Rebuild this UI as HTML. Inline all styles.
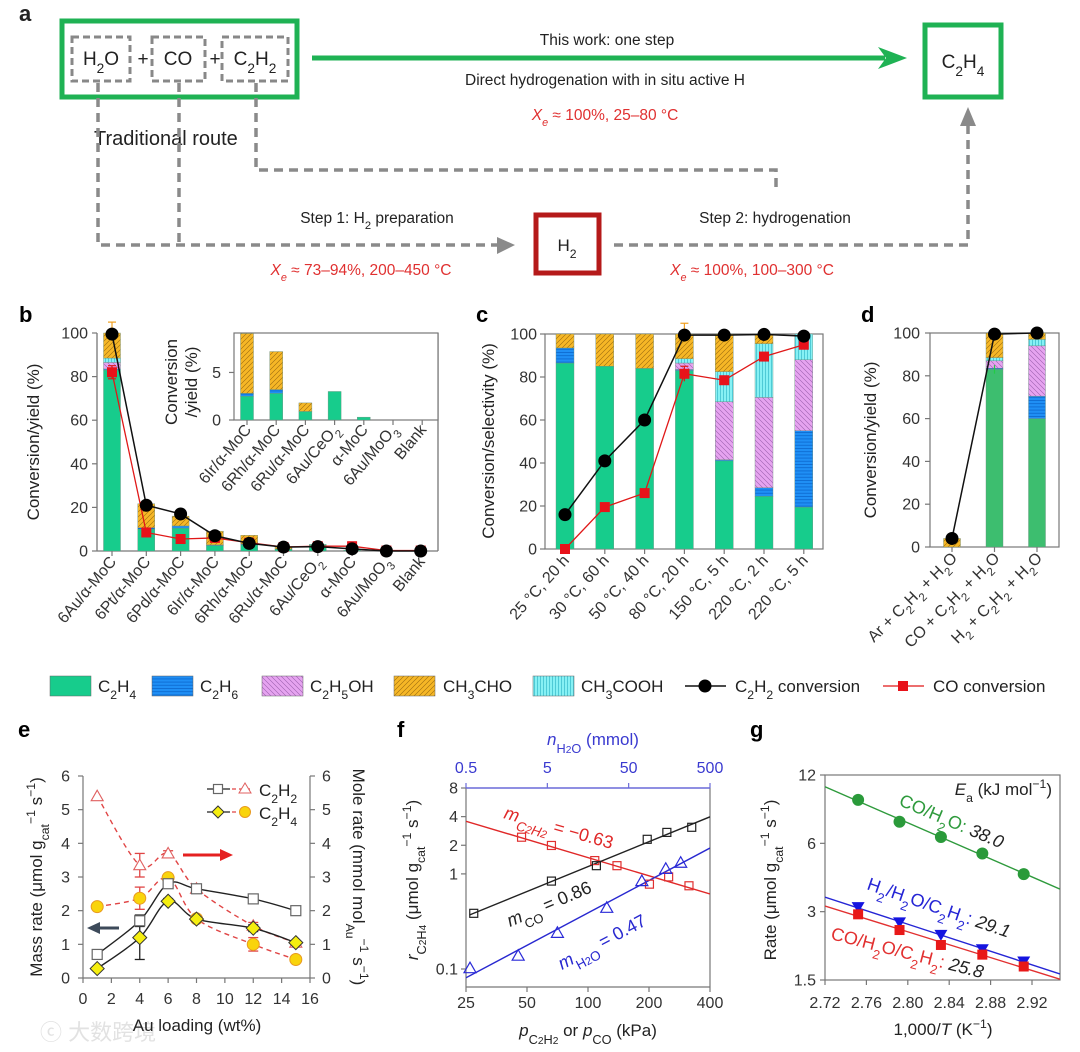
<!DOCTYPE html>
<html><head><meta charset="utf-8">
<style>
body{margin:0;background:#fff}
svg{display:block;font-family:"Liberation Sans","Noto Sans CJK SC",sans-serif}
</style></head>
<body>
<svg id="fig" width="1080" height="1052" viewBox="0 0 1080 1052" xmlns="http://www.w3.org/2000/svg">
<defs>
<pattern id="pBlue" width="6" height="3.2" patternUnits="userSpaceOnUse"><rect width="6" height="3.2" fill="#1f8ff5"/><line x1="0" y1="0.5" x2="6" y2="0.5" stroke="#0a62c8" stroke-width="0.7"/></pattern>
<pattern id="pPink" width="5" height="5" patternUnits="userSpaceOnUse"><rect width="5" height="5" fill="#e6a3f0"/><path d="M-1,-1 L6,6 M-1,4 L1,6 M4,-1 L6,1" stroke="#9c5fae" stroke-width="0.6"/></pattern>
<pattern id="pOrange" width="5" height="5" patternUnits="userSpaceOnUse"><rect width="5" height="5" fill="#f6b726"/><path d="M-1,6 L6,-1 M-1,1 L1,-1 M4,6 L6,4" stroke="#9a6a10" stroke-width="0.6"/></pattern>
<pattern id="pCyan" width="3" height="6" patternUnits="userSpaceOnUse"><rect width="3" height="6" fill="#86f1f4"/><line x1="0.5" y1="0" x2="0.5" y2="6" stroke="#35b9c9" stroke-width="0.7"/></pattern>
<clipPath id="clipF"><rect x="466" y="788" width="244" height="199"/></clipPath>
<clipPath id="clipG"><rect x="825" y="775" width="235" height="205"/></clipPath>
</defs>

<!-- Panel a -->
<g id="panel-a" font-size="15.5" fill="#222">
  <text x="19" y="21" font-size="22" font-weight="bold">a</text>
  <rect x="62" y="21" width="235" height="76" fill="none" stroke="#1fb254" stroke-width="5"/>
  <rect x="72" y="37" width="58" height="44" fill="none" stroke="#888" stroke-width="3" stroke-dasharray="7,4"/>
  <rect x="152" y="37" width="53" height="44" fill="none" stroke="#888" stroke-width="3" stroke-dasharray="7,4"/>
  <rect x="222" y="37" width="66" height="44" fill="none" stroke="#888" stroke-width="3" stroke-dasharray="7,4"/>
  <text x="101" y="65" font-size="19" text-anchor="middle">H<tspan baseline-shift="sub" font-size="72%">2</tspan>O</text>
  <text x="143" y="65" font-size="19" text-anchor="middle">+</text>
  <text x="178" y="65" font-size="19" text-anchor="middle">CO</text>
  <text x="215" y="65" font-size="19" text-anchor="middle">+</text>
  <text x="255" y="65" font-size="19" text-anchor="middle">C<tspan baseline-shift="sub" font-size="72%">2</tspan>H<tspan baseline-shift="sub" font-size="72%">2</tspan></text>
  <line x1="312" y1="58" x2="885" y2="58" stroke="#1fb254" stroke-width="5"/>
  <polygon points="878,47 907,58 878,69 886,58" fill="#1fb254"/>
  <text x="607" y="45" text-anchor="middle">This work: one step</text>
  <text x="605" y="85" text-anchor="middle">Direct hydrogenation with in situ active H</text>
  <text x="605" y="120" text-anchor="middle" fill="#e03030"><tspan font-style="italic">X</tspan><tspan baseline-shift="sub" font-size="70%" font-style="italic">e</tspan> ≈ 100%, 25–80 °C</text>
  <rect x="925" y="25" width="76" height="72" fill="none" stroke="#1fb254" stroke-width="5"/>
  <text x="963" y="68" font-size="19" text-anchor="middle">C<tspan baseline-shift="sub" font-size="72%">2</tspan>H<tspan baseline-shift="sub" font-size="72%">4</tspan></text>
  <text x="94" y="145" font-size="20">Traditional route</text>
  <g fill="none" stroke="#8a8a8a" stroke-width="3.5" stroke-dasharray="9,6">
    <path d="M98,83 V245 H500"/>
    <path d="M179,83 V245"/>
    <path d="M256,83 V170 H776 V192"/>
    <path d="M614,245 H968 V124"/>
  </g>
  <polygon points="497,237 515,245 497,254" fill="#8a8a8a"/>
  <polygon points="960,126 968,107 976,126" fill="#8a8a8a"/>
  <rect x="536" y="215" width="63" height="58" fill="none" stroke="#b51a1a" stroke-width="5"/>
  <text x="567" y="251" font-size="17" text-anchor="middle">H<tspan baseline-shift="sub" font-size="72%">2</tspan></text>
  <text x="377" y="223" text-anchor="middle">Step 1: H<tspan baseline-shift="sub" font-size="72%">2</tspan> preparation</text>
  <text x="775" y="223" text-anchor="middle">Step 2: hydrogenation</text>
  <text x="361" y="275" text-anchor="middle" fill="#e03030"><tspan font-style="italic">X</tspan><tspan baseline-shift="sub" font-size="70%" font-style="italic">e</tspan> ≈ 73–94%, 200–450 °C</text>
  <text x="752" y="275" text-anchor="middle" fill="#e03030"><tspan font-style="italic">X</tspan><tspan baseline-shift="sub" font-size="70%" font-style="italic">e</tspan> ≈ 100%, 100–300 °C</text>
</g>
<text x="40" y="1040" font-size="22" fill="#e2e2e2">ⓒ 大数跨境</text>
</svg>

<script>
// ---------- data ----------
const bCats=['6Au/α-MoC','6Pt/α-MoC','6Pd/α-MoC','6Ir/α-MoC','6Rh/α-MoC','6Ru/α-MoC','6Au/CeO_{2}','α-MoC','6Au/MoO_{3}','Blank'];
const bC2H4=[83,10,10.5,2.5,2.8,0.9,3,0.3,0,0];
const bC2H6=[0.5,0.7,1,0.3,0.4,0,0,0,0,0];
const bC2H5OH=[3,0,0,0,0,0,0,0,0,0];
const bCH3COOH=[2,0,0,0,0,0,0,0,0,0];
const bCH3CHO=[11.5,11,4.5,6.3,4,0.9,0,0,0,0];
const bC2H2conv=[99.5,21,17,7,3.5,1.8,2,1,0,0];
const bCOconv=[82,8.5,5.5,6,3.8,1.8,2.2,2.2,0.2,0.2];
const bYTicks=[0,20,40,60,80,100];
const bInsetTicks=[0,5];

const cCats=['25 °C, 20 h','30 °C, 60 h','50 °C, 40 h','80 °C, 20 h','150 °C, 5 h','220 °C, 2 h','220 °C, 5 h'];
const cC2H4=[86.5,85,84,83,41,24.5,19.5];
const cC2H6=[7,0,0,0.5,0.5,4,35.5];
const cC2H5OH=[0,0,0,3,27,42,33];
const cCH3COOH=[0,0,0,2,14,25,12];
const cCH3CHO=[6.5,15,16,11.5,17.5,4.5,0];
const cC2H2conv=[16,41,60,99.5,99.5,99.8,99];
const cCOconv=[0,19.5,26,81.5,78.5,89.5,95];
const cYTicks=[0,20,40,60,80,100];

const dCats=['Ar + C_{2}H_{2} + H_{2}O','CO + C_{2}H_{2} + H_{2}O','H_{2} + C_{2}H_{2} + H_{2}O'];
const dC2H4=[0,83,60];
const dC2H6=[0,0.5,10.5];
const dC2H5OH=[0,3.5,23.5];
const dCH3COOH=[0,1.5,3];
const dCH3CHO=[4,11.5,3];
const dC2H2conv=[4,99.5,100];
const dYTicks=[0,20,40,60,80,100];

const eX=[1,4,6,8,12,15];
const eC2H2mass=[0.7,1.7,2.8,2.65,2.35,2.0];
const eC2H4mass=[0.28,1.2,2.28,1.75,1.48,1.05];
const eC2H2mole=[5.4,3.35,3.7,2.65,1.55,1.05];
const eC2H4mole=[2.12,2.37,2.98,1.76,1.0,0.55];
const eErrC2H2mass=[0,0.17,0.1,0,0.08,0];
const eErrC2H4mass=[0,0.65,0.08,0,0.1,0];
const eErrC2H2mole=[0,0.35,0.08,0,0.1,0];
const eErrC2H4mole=[0,0.33,0.1,0,0.2,0];
const eXTicks=[0,2,4,6,8,10,12,14,16];
const eYTicks=[0,1,2,3,4,5,6];

const fPC2H2=[47,66,108,139,201,250,315];
const fRC2H2=[2.43,1.99,1.38,1.22,0.78,0.93,0.75];
const fPCO=[27.3,66,110,196,245,325];
const fRCO=[0.385,0.84,1.22,2.31,2.73,3.09];
const fNH2O=[0.56,2.19,6.65,26.9,72.6,143,218];
const fRH2O=[0.102,0.138,0.24,0.44,0.84,1.13,1.31];
const fXTicks=[25,50,100,200,400];
const fTopTicks=[0.5,5,50,500];
const fYTicks=[0.1,1,2,4,8];

const gX=[2.752,2.792,2.832,2.872,2.912];
const gCOH2O=[9.32,7.47,6.4,5.41,4.39];
const gH2H2O=[3.14,2.69,2.37,2.05,1.81];
const gCOH2OC2H2=[2.92,2.49,2.14,1.94,1.72];
const gXTicks=[2.72,2.76,2.80,2.84,2.88,2.92];
const gYTicks=[1.5,3,6,12];

// ---------- helpers ----------
const NS='http://www.w3.org/2000/svg';
const svg=document.getElementById('fig');
function mk(tag,attrs,parent){const e=document.createElementNS(NS,tag);for(const k in attrs)e.setAttribute(k,attrs[k]);(parent||svg).appendChild(e);return e;}
function rich(s){return String(s).replace(/_\{([^}]*)\}/g,'<tspan baseline-shift="sub" font-size="72%">$1</tspan>').replace(/\^\{([^}]*)\}/g,'<tspan baseline-shift="super" font-size="72%">$1</tspan>');}
const SS='<tspan baseline-shift="sub" font-size="75%">', SE='</tspan>';
function tx(parent,x,y,s,opt){const t=mk('text',Object.assign({x:x,y:y},opt||{}),parent);t.innerHTML=rich(s);return t;}
function lin(d0,d1,r0,r1){return v=>r0+(v-d0)/(d1-d0)*(r1-r0);}
function lg(d0,d1,r0,r1){return v=>r0+Math.log(v/d0)/Math.log(d1/d0)*(r1-r0);}
function grp(name){const g=mk('g',{});return g;}
const AX='#777';
function line(p,x1,y1,x2,y2,stroke,w,extra){return mk('line',Object.assign({x1:x1,y1:y1,x2:x2,y2:y2,stroke:stroke,'stroke-width':w},extra||{}),p);}
function smooth(pts){let d='M'+pts[0][0]+','+pts[0][1];for(let i=0;i<pts.length-1;i++){const p0=pts[i-1]||pts[i],p1=pts[i],p2=pts[i+1],p3=pts[i+2]||p2;const c1=[p1[0]+(p2[0]-p0[0])/6,p1[1]+(p2[1]-p0[1])/6],c2=[p2[0]-(p3[0]-p1[0])/6,p2[1]-(p3[1]-p1[1])/6];d+=' C'+c1[0]+','+c1[1]+' '+c2[0]+','+c2[1]+' '+p2[0]+','+p2[1];}return d;}
function fit(xs,ys){const n=xs.length;let sx=0,sy=0,sxx=0,sxy=0;for(let i=0;i<n;i++){sx+=xs[i];sy+=ys[i];sxx+=xs[i]*xs[i];sxy+=xs[i]*ys[i];}const m=(n*sxy-sx*sy)/(n*sxx-sx*sx);return{m:m,b:(sy-m*sx)/n};}
const FILLS=['#17cc8c','url(#pBlue)','url(#pPink)','url(#pCyan)','url(#pOrange)'];
const SERIES=['c2h4','c2h6','c2h5oh','ch3cooh','ch3cho'];
function stack(p,cx,w,vals,ys,green){let acc=0;vals.forEach((v,k)=>{if(v<=0)return;const y0=ys(acc),y1=ys(acc+v);acc+=v;
  const r=mk('rect',{x:cx-w/2,y:y1,width:w,height:y0-y1,fill:(k===0&&green)?green:FILLS[k],stroke:'#6b8f7f','stroke-width':0.4},p);
  
  });}
function dot(p,x,y,r,fill){const c=mk('circle',{cx:x,cy:y,r:r,fill:fill},p);return c;}
function sq(p,x,y,s,fill,stroke){return mk('rect',{x:x-s/2,y:y-s/2,width:s,height:s,fill:fill,stroke:stroke||'none','stroke-width':1.2},p);}
function poly(pts){return pts.map(q=>q[0]+','+q[1]).join(' ');}

// ---------- panel b ----------
(function(){
const g=grp('panel-b-catalyst-chart');
tx(g,19,322,'b',{'font-size':22,'font-weight':'bold'});
const X=i=>112+i*34.3, Y=lin(0,100,551,333);
line(g,97,333,97,551,AX,1.3);line(g,97,551,438,551,AX,1.3);line(g,438,333,438,551,AX,1.3);
bYTicks.forEach(v=>{line(g,92,Y(v),97,Y(v),AX,1.2);const t=tx(g,88,Y(v)+5.5,String(v),{'font-size':16,'text-anchor':'end',fill:'#333'});

});
const yl=tx(g,0,0,'Conversion/yield (%)',{'font-size':17,'text-anchor':'middle',fill:'#222',transform:'translate(39,442) rotate(-90)'});


bCats.forEach((c,i)=>{stack(g,X(i),17,[bC2H4[i],bC2H6[i],bC2H5OH[i],bCH3COOH[i],bCH3CHO[i]],Y);
 line(g,X(i),551,X(i),556,AX,1.2);
 const t=tx(g,0,0,c,{'font-size':16,'text-anchor':'end',fill:'#333',transform:'translate('+(X(i)+5)+',562) rotate(-50)'});
 
 });
line(g,X(0),Y(100),X(0),Y(105),'#f0a020',1.2);line(g,X(0)-4,Y(105),X(0)+4,Y(105),'#f0a020',1.2);
line(g,X(0),Y(79),X(0),Y(85),'#e01818',1.2);line(g,X(0)-4,Y(85),X(0)+4,Y(85),'#e01818',1.2);line(g,X(0)-4,Y(79),X(0)+4,Y(79),'#e01818',1.2);
const co=mk('polyline',{points:poly(bCOconv.map((v,i)=>[X(i),Y(v)])),fill:'none',stroke:'#e01818','stroke-width':1.3},g);


bCOconv.forEach((v,i)=>{const s=sq(g,X(i),Y(v),10,'#e8121a');

});
const ac=mk('polyline',{points:poly(bC2H2conv.map((v,i)=>[X(i),Y(v)])),fill:'none',stroke:'#111','stroke-width':1.5},g);


bC2H2conv.forEach((v,i)=>{const c=dot(g,X(i),Y(v),6.5,'#000');

});
const gi=grp('b-inset-chart');g.appendChild(gi);
mk('rect',{x:234,y:333,width:204,height:87,fill:'#fff',stroke:AX,'stroke-width':1.2},gi);
const IX=i=>247+i*29.2, IY=lin(0,9.15,420,333);
bInsetTicks.forEach(v=>{line(gi,229,IY(v),234,IY(v),AX,1.2);const t=tx(gi,221,IY(v)+5.5,String(v),{'font-size':16,'text-anchor':'end',fill:'#333'});

});
const il1=tx(gi,0,0,'Conversion',{'font-size':17,'text-anchor':'middle',fill:'#222',transform:'translate(177,382) rotate(-90)'});


const il2=tx(gi,0,0,'/yield (%)',{'font-size':17,'text-anchor':'middle',fill:'#222',transform:'translate(197,382) rotate(-90)'});


bCats.slice(3).forEach((c,j)=>{const i=j+3;stack(gi,IX(j),13,[bC2H4[i],bC2H6[i],bC2H5OH[i],bCH3COOH[i],bCH3CHO[i]],IY);
 line(gi,IX(j),420,IX(j),425,AX,1.2);
 const t=tx(gi,0,0,c,{'font-size':16,'text-anchor':'end',fill:'#333',transform:'translate('+(IX(j)+5)+',430) rotate(-50)'});
 
 });
})();

// ---------- panel c ----------
(function(){
const g=grp('panel-c-temperature-chart');
tx(g,476,322,'c',{'font-size':22,'font-weight':'bold'});
const X=i=>565+i*39.8, Y=lin(0,100,549,334);
mk('rect',{x:545,y:334,width:278,height:215,fill:'none',stroke:AX,'stroke-width':1.2},g);
cYTicks.forEach(v=>{line(g,540,Y(v),545,Y(v),AX,1.2);const t=tx(g,537,Y(v)+5.5,String(v),{'font-size':16,'text-anchor':'end',fill:'#333'});

});
const yl=tx(g,0,0,'Conversion/selectivity (%)',{'font-size':17,'text-anchor':'middle',fill:'#222',transform:'translate(494,441) rotate(-90)'});


cCats.forEach((c,i)=>{stack(g,X(i),18,[cC2H4[i],cC2H6[i],cC2H5OH[i],cCH3COOH[i],cCH3CHO[i]],Y);
 line(g,X(i),549,X(i),554,AX,1.2);
 const t=tx(g,0,0,c,{'font-size':16,'text-anchor':'end',fill:'#333',transform:'translate('+(X(i)+5)+',561) rotate(-48)'});
 
 });
line(g,X(3),Y(100),X(3),Y(105),'#f0a020',1.2);line(g,X(3)-4,Y(105),X(3)+4,Y(105),'#f0a020',1.2);
line(g,X(3),Y(78),X(3),Y(85),'#e01818',1.2);line(g,X(3)-4,Y(85),X(3)+4,Y(85),'#e01818',1.2);
const co=mk('polyline',{points:poly(cCOconv.map((v,i)=>[X(i),Y(v)])),fill:'none',stroke:'#e01818','stroke-width':1.3},g);


cCOconv.forEach((v,i)=>{const s=sq(g,X(i),Y(v),10,'#e8121a');

});
const ac=mk('polyline',{points:poly(cC2H2conv.map((v,i)=>[X(i),Y(v)])),fill:'none',stroke:'#111','stroke-width':1.5},g);


cC2H2conv.forEach((v,i)=>{const c=dot(g,X(i),Y(v),6.5,'#000');

});
})();

// ---------- panel d ----------
(function(){
const g=grp('panel-d-atmosphere-chart');
tx(g,861,322,'d',{'font-size':22,'font-weight':'bold'});
const X=i=>952+i*42.5, Y=lin(0,100,547,333);
mk('rect',{x:930,y:333,width:129,height:214,fill:'none',stroke:AX,'stroke-width':1.2},g);
dYTicks.forEach(v=>{line(g,925,Y(v),930,Y(v),AX,1.2);const t=tx(g,920,Y(v)+5.5,String(v),{'font-size':16,'text-anchor':'end',fill:'#333'});

});
const yl=tx(g,0,0,'Conversion/yield (%)',{'font-size':17,'text-anchor':'middle',fill:'#222',transform:'translate(876,440) rotate(-90)'});


dCats.forEach((c,i)=>{stack(g,X(i),17,[dC2H4[i],dC2H6[i],dC2H5OH[i],dCH3COOH[i],dCH3CHO[i]],Y,'#3dbe6f');
 line(g,X(i),547,X(i),552,AX,1.2);
 const t=tx(g,0,0,c,{'font-size':16,'text-anchor':'end',fill:'#333',transform:'translate('+(X(i)+6)+',559) rotate(-45)'});
 
 });
line(g,X(1),Y(81),X(1),Y(85),'#22cc44',1.2);
const ac=mk('polyline',{points:poly(dC2H2conv.map((v,i)=>[X(i),Y(v)])),fill:'none',stroke:'#111','stroke-width':1.5},g);


dC2H2conv.forEach((v,i)=>{const c=dot(g,X(i),Y(v),6.5,'#000');

});
})();

// ---------- legend ----------
(function(){
const g=grp('product-legend');
const items=[[50,98,'#17cc8c','C_{2}H_{4}'],[152,200,'url(#pBlue)','C_{2}H_{6}'],[262,310,'url(#pPink)','C_{2}H_{5}OH'],[394,443,'url(#pOrange)','CH_{3}CHO'],[533,581,'url(#pCyan)','CH_{3}COOH']];
items.forEach(it=>{const r=mk('rect',{x:it[0],y:676,width:41,height:20,fill:it[2],stroke:'#666','stroke-width':0.5},g);


const t=tx(g,it[1],692,it[3],{'font-size':17,fill:'#222'});

});
line(g,685,686,726,686,'#111',1.5);dot(g,705,686,6.5,'#000');
const t1=tx(g,735,692,'C_{2}H_{2} conversion',{'font-size':17,fill:'#222'});


line(g,883,686,924,686,'#e01818',1.3);sq(g,903,686,10,'#e8121a');
const t2=tx(g,933,692,'CO conversion',{'font-size':17,fill:'#222'});


})();

// ---------- panel e ----------
(function(){
const g=grp('panel-e-au-loading-chart');
tx(g,18,737,'e',{'font-size':22,'font-weight':'bold'});
const X=lin(0,16,83,310), Y=lin(0,6,978,776);
line(g,83,776,83,978,AX,1.2);line(g,83,978,310,978,AX,1.2);line(g,310,776,310,978,AX,1.2);
eYTicks.forEach(v=>{line(g,78,Y(v),83,Y(v),AX,1.2);line(g,310,Y(v),315,Y(v),AX,1.2);
const t=tx(g,70,Y(v)+5.5,String(v),{'font-size':16,'text-anchor':'end',fill:'#333'});


const t2=tx(g,322,Y(v)+5.5,String(v),{'font-size':16,fill:'#333'});

});
eXTicks.forEach(v=>{line(g,X(v),978,X(v),983,AX,1.2);const t=tx(g,X(v),1004,String(v),{'font-size':16,'text-anchor':'middle',fill:'#333'});

});
const xl=tx(g,197,1031,'Au loading (wt%)',{'font-size':17,'text-anchor':'middle',fill:'#222'});


const yl=tx(g,0,0,'Mass rate (μmol g_{cat}^{−1} s^{−1})',{'font-size':17,'text-anchor':'middle',fill:'#222',transform:'translate(42,877) rotate(-90)'});


const yr=tx(g,0,0,'Mole rate (mmol mol_{Au}^{−1} s^{−1})',{'font-size':17,'text-anchor':'middle',fill:'#222',transform:'translate(353,877) rotate(90)'});


const series=[[eC2H2mole,eErrC2H2mole,'#e04545','5,4','c2h2-mole'],[eC2H4mole,eErrC2H4mole,'#e04545','5,4','c2h4-mole'],[eC2H2mass,eErrC2H2mass,'#222','','c2h2-mass'],[eC2H4mass,eErrC2H4mass,'#222','','c2h4-mass']];
series.forEach(s=>{const p=mk('path',{d:smooth(eX.map((x,i)=>[X(x),Y(s[0][i])])),fill:'none',stroke:s[2],'stroke-width':1.4,'stroke-dasharray':s[3]},g);


eX.forEach((x,i)=>{const e=s[1][i];if(!e)return;const col=s[2];
line(g,X(x),Y(s[0][i]-e),X(x),Y(s[0][i]+e),col,1.3);line(g,X(x)-5,Y(s[0][i]-e),X(x)+5,Y(s[0][i]-e),col,1.3);line(g,X(x)-5,Y(s[0][i]+e),X(x)+5,Y(s[0][i]+e),col,1.3);});});
eX.forEach((x,i)=>{
const a=mk('polygon',{points:poly([[X(x),Y(eC2H2mole[i])-6],[X(x)-6,Y(eC2H2mole[i])+4.5],[X(x)+6,Y(eC2H2mole[i])+4.5]]),fill:'#fff',stroke:'#e06060','stroke-width':1.1},g);


const b=dot(g,X(x),Y(eC2H4mole[i]),6,'#f9d40c');b.setAttribute('stroke','#e89a20');


const c=sq(g,X(x),Y(eC2H2mass[i]),10,'#fff','#666');


const d=mk('polygon',{points:poly([[X(x),Y(eC2H4mass[i])-7],[X(x)+7,Y(eC2H4mass[i])],[X(x),Y(eC2H4mass[i])+7],[X(x)-7,Y(eC2H4mass[i])]]),fill:'#f5ee10',stroke:'#333','stroke-width':1},g);

});
line(g,98,928,119,928,'#3d4a5a',3);mk('polygon',{points:'87,928 100,922 100,934',fill:'#3d4a5a'},g);
line(g,183,855,222,855,'#e52020',3);mk('polygon',{points:'233,855 220,849 220,861',fill:'#e52020'},g);
line(g,207,789,230,789,'#222',1.3);sq(g,218,789,9,'#fff','#666');
line(g,232,789,253,789,'#e04545',1.3,{'stroke-dasharray':'4,3'});mk('polygon',{points:'245,783 239,793 251,793',fill:'#fff',stroke:'#e06060'},g);
const l1=tx(g,259,796,'C_{2}H_{2}',{'font-size':17,fill:'#222'});


line(g,207,812,230,812,'#222',1.3);mk('polygon',{points:'218,806 224,812 218,818 212,812',fill:'#f5ee10',stroke:'#333'},g);
line(g,232,812,253,812,'#e04545',1.3,{'stroke-dasharray':'4,3'});const lc=dot(g,245,812,5.5,'#f9d40c');lc.setAttribute('stroke','#e89a20');
const l2=tx(g,259,819,'C_{2}H_{4}',{'font-size':17,fill:'#222'});


})();

// ---------- panel f ----------
(function(){
const g=grp('panel-f-reaction-order-chart');
tx(g,397,737,'f',{'font-size':22,'font-weight':'bold'});
const X=lg(25,400,466,710), N=lg(0.5,500,466,710), Y=lg(0.1,8,969,788);
line(g,466,788,466,987,AX,1.2);line(g,466,987,710,987,AX,1.2);line(g,710,788,710,987,AX,1.2);line(g,466,788,710,788,'#6a6ad8',1.4);
fYTicks.forEach(v=>{line(g,461,Y(v),466,Y(v),AX,1.2);const t=tx(g,458,Y(v)+5.5,String(v),{'font-size':16,'text-anchor':'end',fill:'#333'});

});
fXTicks.forEach(v=>{line(g,X(v),987,X(v),992,AX,1.2);const t=tx(g,X(v),1008,String(v),{'font-size':16,'text-anchor':'middle',fill:'#333'});

});
fTopTicks.forEach(v=>{line(g,N(v),783,N(v),788,'#6a6ad8',1.2);const t=tx(g,N(v),773,String(v),{'font-size':16,'text-anchor':'middle',fill:'#3a3ad0'});

});
const tt=tx(g,593,745,'<tspan font-style="italic">n</tspan>'+SS+'H<tspan font-size="80%">2</tspan>O'+SE+' (mmol)',{'font-size':17,'text-anchor':'middle',fill:'#3a3ad0'});


const xl=tx(g,588,1036,'<tspan font-style="italic">p</tspan>'+SS+'C<tspan font-size="80%">2</tspan>H<tspan font-size="80%">2</tspan>'+SE+' or <tspan font-style="italic">p</tspan>'+SS+'CO'+SE+' (kPa)',{'font-size':17,'text-anchor':'middle',fill:'#222'});


const yl=tx(g,0,0,'<tspan font-style="italic">r</tspan>'+SS+'C<tspan font-size="80%">2</tspan>H<tspan font-size="80%">4</tspan>'+SE+' (μmol g_{cat}^{−1} s^{−1})',{'font-size':17,'text-anchor':'middle',fill:'#222',transform:'translate(418,880) rotate(-90)'});


const cg=mk('g',{'clip-path':'url(#clipF)'},g);
const L=Math.log10;
const fr=fit(fPC2H2.map(L),fRC2H2.map(L)), fc=fit(fPCO.map(L),fRCO.map(L)), fh=fit(fNH2O.map(L),fRH2O.map(L));
const lr=line(cg,X(25),Y(Math.pow(10,fr.b+fr.m*L(25))),X(400),Y(Math.pow(10,fr.b+fr.m*L(400))),'#e02828',1.4);


const lc=line(cg,X(26),Y(Math.pow(10,fc.b+fc.m*L(26))),X(400),Y(Math.pow(10,fc.b+fc.m*L(400))),'#222',1.4);


const lh=line(cg,N(0.5),Y(Math.pow(10,fh.b+fh.m*L(0.5))),N(500),Y(Math.pow(10,fh.b+fh.m*L(500))),'#2828d0',1.4);


fPC2H2.forEach((x,i)=>{const s=sq(g,X(x),Y(fRC2H2[i]),8,'none','#e03030');

});
fPCO.forEach((x,i)=>{const s=sq(g,X(x),Y(fRCO[i]),8,'none','#222');

});
fNH2O.forEach((x,i)=>{const cx=N(x),cy=Y(fRH2O[i]);const s=mk('polygon',{points:poly([[cx,cy-6],[cx-6,cy+4.5],[cx+6,cy+4.5]]),fill:'none',stroke:'#2a2ad8','stroke-width':1.2},g);

});
const a=tx(g,0,0,'<tspan font-style="italic">m</tspan>'+SS+'<tspan font-style="italic">C<tspan font-size="80%">2</tspan>H<tspan font-size="80%">2</tspan></tspan>'+SE+' = −0.63',{'font-size':18,fill:'#e02828',transform:'translate(503,818) rotate(16)'});


const b=tx(g,0,0,'<tspan font-style="italic">m</tspan>_{CO} = 0.86',{'font-size':18,fill:'#222',transform:'translate(510,927) rotate(-23)'});


const c=tx(g,0,0,'<tspan font-style="italic">m</tspan>'+SS+'H<tspan font-size="80%">2</tspan>O'+SE+' = 0.47',{'font-size':18,fill:'#2828d0',transform:'translate(562,970) rotate(-28)'});


})();

// ---------- panel g ----------
(function(){
const g=grp('panel-g-arrhenius-chart');
tx(g,750,737,'g',{'font-size':22,'font-weight':'bold'});
const X=lin(2.72,2.92,825,1032), Y=lg(1.5,12,980,775);
mk('rect',{x:825,y:775,width:235,height:205,fill:'none',stroke:AX,'stroke-width':1.2},g);
gYTicks.forEach(v=>{line(g,820,Y(v),825,Y(v),AX,1.2);const t=tx(g,816,Y(v)+5.5,String(v),{'font-size':16,'text-anchor':'end',fill:'#333'});

});
gXTicks.forEach(v=>{line(g,X(v),980,X(v),985,AX,1.2);const t=tx(g,X(v),1008,v.toFixed(2),{'font-size':16,'text-anchor':'middle',fill:'#333'});

});
const xl=tx(g,943,1035,'1,000/<tspan font-style="italic">T</tspan> (K^{−1})',{'font-size':17,'text-anchor':'middle',fill:'#222'});


const yl=tx(g,0,0,'Rate (μmol g_{cat}^{−1} s^{−1})',{'font-size':17,'text-anchor':'middle',fill:'#222',transform:'translate(776,880) rotate(-90)'});


const cg=mk('g',{'clip-path':'url(#clipG)'},g);
const sets=[[gCOH2O,'#2e9a3c','co-h2o'],[gH2H2O,'#2525d5','h2-h2o-c2h2'],[gCOH2OC2H2,'#e23030','co-h2o-c2h2']];
sets.forEach(s=>{const f=fit(gX,s[0].map(Math.log));
const l=line(cg,X(2.72),Y(Math.exp(f.b+f.m*2.72)),X(2.947),Y(Math.exp(f.b+f.m*2.947)),s[1],1.4);

});
gX.forEach((x,i)=>{
const c=dot(g,X(x),Y(gCOH2O[i]),6,'#2a9a3a');


const cx=X(x),cy=Y(gH2H2O[i]);
const t=mk('polygon',{points:poly([[cx-6.5,cy-5],[cx+6.5,cy-5],[cx,cy+6]]),fill:'#1414e0'},g);


const s=sq(g,X(x),Y(gCOH2OC2H2[i]),10,'#e81818');

});
const ea=tx(g,1052,795,'<tspan font-style="italic">E</tspan>_{a} (kJ mol^{−1})',{'font-size':17,'text-anchor':'end',fill:'#222'});


const a=tx(g,0,0,'<tspan fill="#2e9a3c">CO/H_{2}O:</tspan> <tspan font-style="italic">38.0</tspan>',{'font-size':18,fill:'#222',transform:'translate(898,805) rotate(23)'});


const b=tx(g,0,0,'<tspan fill="#2525d5">H_{2}/H_{2}O/C_{2}H_{2}:</tspan> <tspan font-style="italic">29.1</tspan>',{'font-size':18,fill:'#222',transform:'translate(866,889) rotate(19)'});


const c=tx(g,0,0,'<tspan fill="#e23030">CO/H_{2}O/C_{2}H_{2}:</tspan> <tspan font-style="italic">25.8</tspan>',{'font-size':18,fill:'#222',transform:'translate(830,939) rotate(14.5)'});


})();
</script>
</body></html>
